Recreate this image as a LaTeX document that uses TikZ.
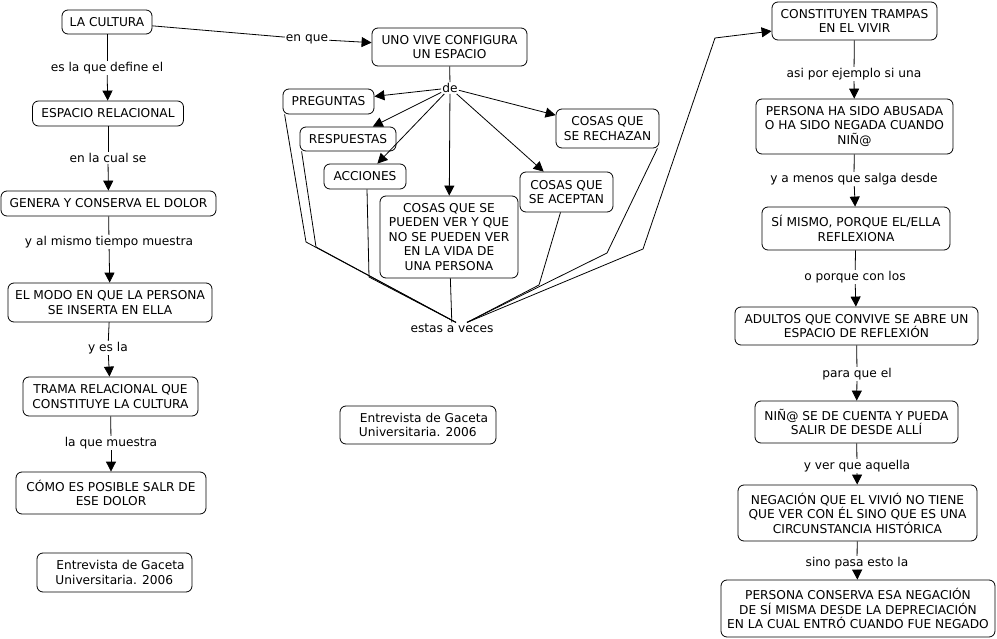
\documentclass[tikz,border=0pt]{standalone}
\usepackage{fontspec}
\setmainfont{DejaVu Sans}
\usetikzlibrary{arrows.meta}
\begin{document}
\begin{tikzpicture}[x=1pt,y=-1pt,
  concept/.style={draw=black, line width=0.8pt, rounded corners=6pt, fill=white,
    align=center, inner sep=1pt, font=\fontsize{12.2}{14.5}\selectfont},
  lbl/.style={inner sep=1pt, font=\fontsize{12.2}{14.5}\selectfont},
  link/.style={draw=black, line width=0.8pt},
  arr/.style={link, -{Triangle[width=10pt,length=10pt]}},
]
\useasboundingbox (0,0) rectangle (997,639);

% ---------- left column ----------
\node[concept, minimum width=90pt, minimum height=24pt] (cultura) at (107,22) {LA CULTURA};
\node[lbl] (l1) at (107,68) {es la que define el};
\node[concept, minimum width=151pt, minimum height=25pt] (espacio) at (108,113.5) {ESPACIO RELACIONAL};
\node[lbl] (l2) at (108,158) {en la cual se};
\node[concept, minimum width=215pt, minimum height=25pt] (genera) at (108.5,203.5) {GENERA Y CONSERVA EL DOLOR};
\node[lbl] (l3) at (109,242) {y al mismo tiempo muestra};
\node[concept, minimum width=204pt, minimum height=39pt] (modo) at (110,302.5) {EL MODO EN QUE LA PERSONA\\SE INSERTA EN ELLA};
\node[lbl] (l4) at (108,348) {y es la};
\node[concept, minimum width=175pt, minimum height=39pt] (trama) at (110.5,396.5) {TRAMA RELACIONAL QUE\\CONSTITUYE LA CULTURA};
\node[lbl] (l5) at (111,443) {la que muestra};
\node[concept, minimum width=190pt, minimum height=42pt] (como) at (111,493) {CÓMO ES POSIBLE SALR DE\\ESE DOLOR};
\node[concept, align=left, minimum width=155pt, minimum height=39pt] (ref1) at (114.5,572.5)
  {\hspace*{12pt}Entrevista de Gaceta\\\hspace*{11pt}Universitaria. 2006};

\draw[link] (cultura) -- (l1);
\draw[arr] (l1) -- (espacio);
\draw[link] (espacio) -- (l2);
\draw[arr] (l2) -- (genera);
\draw[link] (genera) -- (l3);
\draw[arr] (l3) -- (modo);
\draw[link] (modo) -- (l4);
\draw[arr] (l4) -- (trama);
\draw[link] (trama) -- (l5);
\draw[arr] (l5) -- (como);

% ---------- middle ----------
\node[lbl] (enque) at (307,39) {en que};
\node[concept, minimum width=155pt, minimum height=38pt] (uno) at (449.5,47) {UNO VIVE CONFIGURA\\UN ESPACIO};
\node[lbl] (de) at (450,88) {de};
\node[concept, minimum width=91pt, minimum height=25pt] (preg) at (328.5,101.5) {PREGUNTAS};
\node[concept, minimum width=96pt, minimum height=24pt] (resp) at (348,139) {RESPUESTAS};
\node[concept, minimum width=82pt, minimum height=25pt] (acc) at (365,176.5) {ACCIONES};
\node[concept, minimum width=138pt, minimum height=82pt] (big) at (449,237)
  {COSAS QUE SE\\PUEDEN VER Y QUE\\NO SE PUEDEN VER\\EN LA VIDA DE\\UNA PERSONA};
\node[concept, minimum width=93pt, minimum height=40pt] (acep) at (566.5,192) {COSAS QUE\\SE ACEPTAN};
\node[concept, minimum width=103pt, minimum height=39pt] (rech) at (607.5,128.5) {COSAS QUE\\SE RECHAZAN};
\node[lbl] (estas) at (452,328) {estas a veces};
\node[concept, align=left, minimum width=156pt, minimum height=38pt] (ref2) at (418,425)
  {\hspace*{12pt}Entrevista de Gaceta\\\hspace*{11pt}Universitaria. 2006};

\coordinate (b1) at (306,242);
\coordinate (b2) at (316,247);
\coordinate (b3) at (369,277);
\coordinate (b4) at (539,285);
\coordinate (b5) at (607,253);
\coordinate (b6) at (643,249);
\coordinate (b7) at (715,38);

\draw[link] (cultura) -- (enque);
\draw[arr] (enque) -- (uno);
\draw[link] (uno) -- (de);
\draw[arr] (de) -- (preg);
\draw[arr] (de) -- (resp);
\draw[arr] (de) -- (acc);
\draw[arr] (de) -- (big);
\draw[arr] (de) -- (acep);
\draw[arr] (de) -- (rech);

\draw[link] ([xshift=2pt]preg.south west) -- (b1) -- ([xshift=4pt]estas.north);
\draw[link] ([xshift=2pt]resp.south west) -- (b2) -- ([xshift=4pt]estas.north);
\draw[link] ([xshift=2pt]acc.south) -- (b3) -- ([xshift=4pt]estas.north);
\draw[link] (big) -- (estas);
\draw[link] ([xshift=-6pt]acep.south) -- (b4) -- ([xshift=15pt]estas.north);
\draw[link] ([xshift=-2pt]rech.south east) -- (b5) -- ([xshift=15pt]estas.north);

% ---------- right column ----------
\node[concept, minimum width=165pt, minimum height=38pt] (const) at (854.5,21) {CONSTITUYEN TRAMPAS\\EN EL VIVIR};
\node[lbl] (r1) at (854,74) {asi por ejemplo si una};
\node[concept, minimum width=197pt, minimum height=55pt] (abus) at (854.5,126.5) {PERSONA HA SIDO ABUSADA\\O HA SIDO NEGADA CUANDO\\NIÑ@};
\node[lbl] (r2) at (854,179) {y a menos que salga desde};
\node[concept, minimum width=188pt, minimum height=43pt] (simismo) at (856,228.5) {SÍ MISMO, PORQUE EL/ELLA\\REFLEXIONA};
\node[lbl] (r3) at (855,277) {o porque con los};
\node[concept, minimum width=243pt, minimum height=38pt] (adultos) at (856.5,326) {ADULTOS QUE CONVIVE SE ABRE UN\\ESPACIO DE REFLEXIÓN};
\node[lbl] (r4) at (857,374) {para que el};
\node[concept, minimum width=203pt, minimum height=42pt] (nino) at (856.5,422) {NIÑ@ SE DE CUENTA Y PUEDA\\SALIR DE DESDE ALLÍ};
\node[lbl] (r5) at (857,466) {y ver que aquella};
\node[concept, minimum width=239pt, minimum height=56pt] (neg) at (857.5,513) {NEGACIÓN QUE EL VIVIÓ NO TIENE\\QUE VER CON ÉL SINO QUE ES UNA\\CIRCUNSTANCIA HISTÓRICA};
\node[lbl] (r6) at (857,563) {sino pasa esto la};
\node[concept, minimum width=274pt, minimum height=57pt] (pcons) at (858,608.5) {PERSONA CONSERVA ESA NEGACIÓN\\DE SÍ MISMA DESDE LA DEPRECIACIÓN\\EN LA CUAL ENTRÓ CUANDO FUE NEGADO};

\draw[arr] ([xshift=15pt]estas.north) -- (b6) -- (b7) -- (const);

\draw[link] (const) -- (r1);
\draw[arr] (r1) -- (abus);
\draw[link] (abus) -- (r2);
\draw[arr] (r2) -- (simismo);
\draw[link] (simismo) -- (r3);
\draw[arr] (r3) -- (adultos);
\draw[link] (adultos) -- (r4);
\draw[arr] (r4) -- (nino);
\draw[link] (nino) -- (r5);
\draw[arr] (r5) -- (neg);
\draw[link] (neg) -- (r6);
\draw[arr] (r6) -- (pcons);
\end{tikzpicture}
\end{document}
